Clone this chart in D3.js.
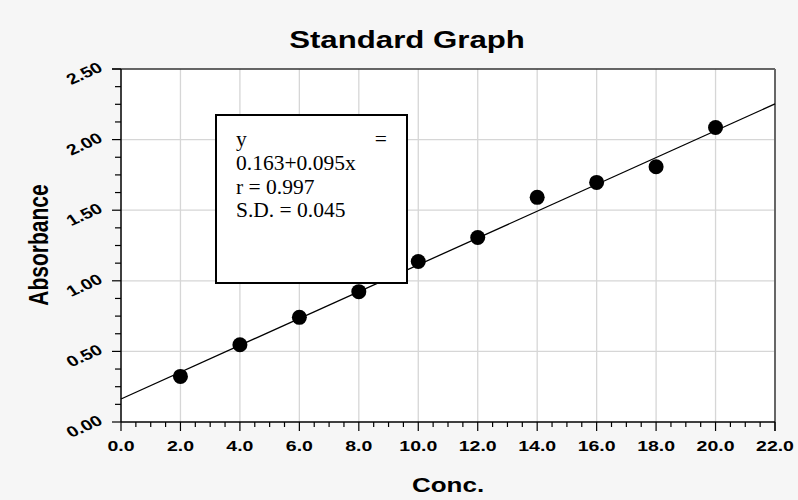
<!DOCTYPE html>
<html>
<head>
<meta charset="utf-8">
<script src="https://cdn.jsdelivr.net/npm/d3@7"></script>
<style>
  body { margin: 0; background: #f6f6f6; }
  text { font-family: Arial, "Liberation Sans", sans-serif; }
</style>
</head>
<body>
<div id="chart"></div>
<script>
// Datos
const conc = [2, 4, 6, 8, 10, 12, 14, 16, 18, 20];
const absorbance = [0.323, 0.547, 0.741, 0.923, 1.137, 1.307, 1.591, 1.697, 1.808, 2.086];
const xTicks = [0, 2, 4, 6, 8, 10, 12, 14, 16, 18, 20, 22];
const yTicks = [0, 0.5, 1.0, 1.5, 2.0, 2.5];
const fitIntercept = 0.163;
const fitSlope = 0.095;
const boxLines = ["0.163+0.095x", "r = 0.997", "S.D. = 0.045"];

const W = 798, H = 500;
const margin = { top: 69, right: 23, bottom: 78, left: 121 };
const width = W - margin.left - margin.right;
const height = H - margin.top - margin.bottom;
const SX = 1.3; // el texto horizontal aparece estirado

const svg = d3.select("#chart").append("svg")
  .attr("width", W).attr("height", H);

svg.append("rect").attr("width", W).attr("height", H).attr("fill", "#f6f6f6");

const g = svg.append("g")
  .attr("transform", "translate(" + margin.left + "," + margin.top + ")");

const x = d3.scaleLinear().domain([0, 22]).range([0, width]);
const y = d3.scaleLinear().domain([0, 2.5]).range([height, 0]);

// Fondo del area del grafico
g.append("rect").attr("width", width).attr("height", height).attr("fill", "#fff");

// Rejilla
g.selectAll(".vgrid").data(xTicks.filter(d => d > 0 && d < 22)).enter()
  .append("line")
  .attr("x1", d => x(d)).attr("x2", d => x(d))
  .attr("y1", 0).attr("y2", height)
  .attr("stroke", "#d6d6d6").attr("stroke-width", 1.3);
g.selectAll(".hgrid").data(yTicks.filter(d => d > 0 && d < 2.5)).enter()
  .append("line")
  .attr("y1", d => y(d)).attr("y2", d => y(d))
  .attr("x1", 0).attr("x2", width)
  .attr("stroke", "#d6d6d6").attr("stroke-width", 1.3);

// Bordes superior y derecho
g.append("line").attr("x1", -9).attr("x2", width).attr("y1", 0).attr("y2", 0)
  .attr("stroke", "#333").attr("stroke-width", 1.5);
g.append("line").attr("x1", width).attr("x2", width).attr("y1", 0).attr("y2", height + 9)
  .attr("stroke", "#666").attr("stroke-width", 2);

// Eje X
const xAxis = g.append("g").attr("transform", "translate(0," + height + ")");
xAxis.append("line").attr("x1", 0).attr("x2", width).attr("stroke", "#000").attr("stroke-width", 1.5);
xAxis.selectAll(".xminor").data(d3.range(0, 22.01, 0.5)).enter()
  .append("line")
  .attr("x1", d => x(d)).attr("x2", d => x(d))
  .attr("y1", 0).attr("y2", d => (d % 2 === 0 ? 9 : 5))
  .attr("stroke", "#000").attr("stroke-width", 1.2);
xAxis.selectAll(".xlab").data(xTicks).enter()
  .append("text")
  .attr("transform", d => "translate(" + x(d) + ",29) scale(" + SX + ",1)")
  .attr("text-anchor", "middle")
  .style("font-size", "15px").style("font-weight", "bold")
  .text(d => d.toFixed(1));

// Eje Y
const yAxis = g.append("g");
yAxis.append("line").attr("y1", 0).attr("y2", height).attr("stroke", "#000").attr("stroke-width", 1.5);
yAxis.selectAll(".yminor").data(d3.range(0, 2.5001, 0.125)).enter()
  .append("line")
  .attr("y1", d => y(d)).attr("y2", d => y(d))
  .attr("x1", 0).attr("x2", d => (Math.abs(d * 2 - Math.round(d * 2)) < 1e-6 ? -9 : -6))
  .attr("stroke", "#000").attr("stroke-width", 1.2);
yAxis.selectAll(".ylab").data(yTicks).enter()
  .append("text")
  .attr("transform", d => "translate(-17," + (y(d) + 1.5) + ") scale(" + SX + ",1) rotate(-30)")
  .attr("text-anchor", "end")
  .style("font-size", "15px").style("font-weight", "bold")
  .text(d => d.toFixed(2));

// Recta de ajuste
const fitLine = d3.line().x(d => x(d)).y(d => y(fitIntercept + fitSlope * d));
g.append("path").datum([0, 22]).attr("d", fitLine)
  .attr("fill", "none").attr("stroke", "#000").attr("stroke-width", 1.3);

// Puntos
g.selectAll(".pt").data(conc).enter()
  .append("circle")
  .attr("cx", d => x(d)).attr("cy", (d, i) => y(absorbance[i]))
  .attr("r", 7.5).attr("fill", "#000");

// Cuadro con la ecuacion
const box = svg.append("g");
box.append("rect").attr("x", 216).attr("y", 115).attr("width", 191).attr("height", 168)
  .attr("fill", "#fff").attr("stroke", "#000").attr("stroke-width", 2);
const serif = "'Liberation Serif', 'Times New Roman', serif";
box.append("text").attr("x", 236).attr("y", 146).text("y")
  .style("font-family", serif).style("font-size", "21.5px");
box.append("text").attr("x", 387).attr("y", 146).attr("text-anchor", "end").text("=")
  .style("font-family", serif).style("font-size", "21.5px");
box.selectAll(".bl").data(boxLines).enter()
  .append("text")
  .attr("x", 236).attr("y", (d, i) => 170 + i * 23.7)
  .style("font-family", serif).style("font-size", "21.5px")
  .text(d => d);

// Titulos
svg.append("text")
  .attr("transform", "translate(407,48) scale(" + SX + ",1)")
  .attr("text-anchor", "middle")
  .style("font-size", "24px").style("font-weight", "bold")
  .text("Standard Graph");
svg.append("text")
  .attr("transform", "translate(448,492) scale(" + SX + ",1)")
  .attr("text-anchor", "middle")
  .style("font-size", "20px").style("font-weight", "bold")
  .text("Conc.");
svg.append("text")
  .attr("transform", "translate(48,245) scale(" + SX + ",1) rotate(-90)")
  .attr("text-anchor", "middle")
  .style("font-size", "21px").style("font-weight", "bold")
  .text("Absorbance");
</script>
</body>
</html>
